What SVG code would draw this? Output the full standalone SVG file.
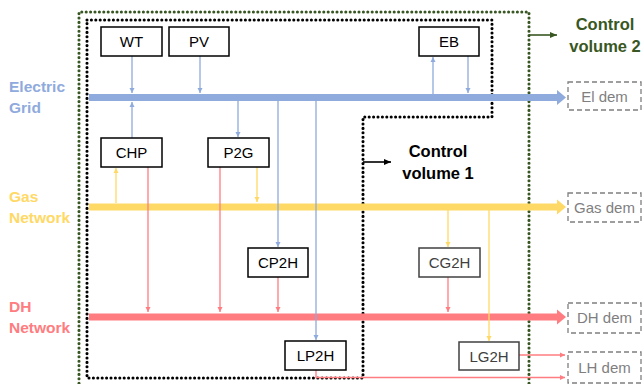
<svg xmlns="http://www.w3.org/2000/svg" width="643" height="384" viewBox="0 0 643 384">
<style>
.box{fill:#fff;stroke:#000;stroke-width:1.5}
.box2{fill:#fff;stroke:#404040;stroke-width:1.5}
.dem{fill:#fff;stroke:#7f7f7f;stroke-width:1.3;stroke-dasharray:5 3}
.t{font-family:"Liberation Sans",Arial,sans-serif;font-size:15px;text-anchor:middle;fill:#000}
.t2{fill:#404040}
.td{font-family:"Liberation Sans",Arial,sans-serif;font-size:15px;text-anchor:middle;fill:#7f7f7f}
.lab{font-family:"Liberation Sans",Arial,sans-serif;font-size:15.5px;font-weight:bold}
.cv{font-family:"Liberation Sans",Arial,sans-serif;font-size:16.5px;font-weight:bold;text-anchor:middle}
.b{stroke:#8faadc;stroke-width:1.3;fill:none}
.y{stroke:#ffd966;stroke-width:1.3;fill:none}
.r{stroke:#ff7c80;stroke-width:1.3;fill:none}
.dots{fill:none;stroke-width:3.1;stroke-linecap:round;stroke-dasharray:0 4.4}
</style>
<defs>
<marker id="ab" markerUnits="userSpaceOnUse" markerWidth="6" markerHeight="6" refX="5" refY="3" orient="auto"><path d="M0,0.5 L5,3 L0,5.5 z" fill="#8faadc"/></marker>
<marker id="ay" markerUnits="userSpaceOnUse" markerWidth="6" markerHeight="6" refX="5" refY="3" orient="auto"><path d="M0,0.5 L5,3 L0,5.5 z" fill="#ffd966"/></marker>
<marker id="ar" markerUnits="userSpaceOnUse" markerWidth="6" markerHeight="6" refX="5" refY="3" orient="auto"><path d="M0,0.5 L5,3 L0,5.5 z" fill="#ff7c80"/></marker>
<marker id="ak" markerUnits="userSpaceOnUse" markerWidth="8" markerHeight="8" refX="7" refY="4" orient="auto"><path d="M0,1 L7,4 L0,7 z" fill="#000"/></marker>
<marker id="ag" markerUnits="userSpaceOnUse" markerWidth="8" markerHeight="8" refX="7" refY="4" orient="auto"><path d="M0,1 L7,4 L0,7 z" fill="#385723"/></marker>
</defs>
<rect width="643" height="384" fill="#fff"/>

<g id="control-volumes">
<path class="dots" stroke="#385723" d="M79,392 V12 H529 V392"/>
<path class="dots" stroke="#000" d="M87,20 H492 V117 H363 V378 H87 Z"/>
<line x1="529" y1="35" x2="557" y2="35" stroke="#385723" stroke-width="1.6" marker-end="url(#ag)"/>
<line x1="363" y1="162" x2="391" y2="162" stroke="#000" stroke-width="1.6" marker-end="url(#ak)"/>
<text class="cv" fill="#385723" x="605" y="30">Control</text>
<text class="cv" fill="#385723" x="605" y="52">volume 2</text>
<text class="cv" fill="#000" x="438" y="157">Control</text>
<text class="cv" fill="#000" x="438" y="179">volume 1</text>
</g>

<g id="labels">
<text class="lab" fill="#8faadc" x="9" y="92">Electric</text>
<text class="lab" fill="#8faadc" x="9" y="113">Grid</text>
<text class="lab" fill="#ffd966" x="9" y="202">Gas</text>
<text class="lab" fill="#ffd966" x="9" y="223">Network</text>
<text class="lab" fill="#ff7c80" x="9" y="312">DH</text>
<text class="lab" fill="#ff7c80" x="9" y="333">Network</text>
</g>

<g id="connectors">
<rect x="89" y="94" width="469" height="7" fill="#8faadc"/>
<polygon points="557,90 566,97.5 557,105" fill="#8faadc"/>
<rect x="89" y="203.5" width="469" height="7" fill="#ffd966"/>
<polygon points="557,199.5 566,207 557,214.5" fill="#ffd966"/>
<rect x="89" y="313.5" width="469" height="7" fill="#ff7c80"/>
<polygon points="557,309.5 566,317 557,324.5" fill="#ff7c80"/>
<line class="b" x1="132" y1="56" x2="132" y2="93" marker-end="url(#ab)"/>
<line class="b" x1="200" y1="56" x2="200" y2="93" marker-end="url(#ab)"/>
<line class="b" x1="132" y1="138" x2="132" y2="102" marker-end="url(#ab)"/>
<line class="b" x1="238" y1="101" x2="238" y2="137" marker-end="url(#ab)"/>
<line class="b" x1="278" y1="101" x2="278" y2="247" marker-end="url(#ab)"/>
<line class="b" x1="316" y1="101" x2="316" y2="340" marker-end="url(#ab)"/>
<line class="b" x1="433" y1="94" x2="433" y2="57" marker-end="url(#ab)"/>
<line class="b" x1="468" y1="56" x2="468" y2="93" marker-end="url(#ab)"/>
<line class="y" x1="116" y1="203" x2="116" y2="168" marker-end="url(#ay)"/>
<line class="y" x1="257" y1="167" x2="257" y2="202" marker-end="url(#ay)"/>
<line class="y" x1="448" y1="210" x2="448" y2="247" marker-end="url(#ay)"/>
<line class="y" x1="489" y1="210" x2="489" y2="341" marker-end="url(#ay)"/>
<line class="r" x1="148" y1="167" x2="148" y2="312" marker-end="url(#ar)"/>
<line class="r" x1="220" y1="167" x2="220" y2="312" marker-end="url(#ar)"/>
<line class="r" x1="278" y1="277" x2="278" y2="312" marker-end="url(#ar)"/>
<line class="r" x1="448" y1="277" x2="448" y2="312" marker-end="url(#ar)"/>
<line class="r" x1="519" y1="355" x2="565" y2="355" marker-end="url(#ar)"/>
<path class="r" d="M316,370 V377.5 H565" marker-end="url(#ar)"/>
</g>

<g id="WT"><rect class="box" x="101" y="27" width="61" height="29"/><text class="t" x="131.5" y="47">WT</text></g>
<g id="PV"><rect class="box" x="169" y="27" width="60" height="29"/><text class="t" x="199" y="47">PV</text></g>
<g id="EB"><rect class="box" x="419" y="27" width="60" height="29"/><text class="t" x="449" y="47">EB</text></g>
<g id="CHP"><rect class="box" x="101" y="138" width="61" height="29"/><text class="t" x="131.5" y="158">CHP</text></g>
<g id="P2G"><rect class="box" x="208" y="138" width="61" height="29"/><text class="t" x="238.5" y="158">P2G</text></g>
<g id="CP2H"><rect class="box" x="248" y="248" width="60" height="29"/><text class="t" x="278" y="268">CP2H</text></g>
<g id="CG2H"><rect class="box2" x="419" y="248" width="61" height="29"/><text class="t t2" x="449.5" y="268">CG2H</text></g>
<g id="LP2H"><rect class="box" x="285" y="341" width="61" height="29"/><text class="t" x="315.5" y="361">LP2H</text></g>
<g id="LG2H"><rect class="box2" x="459" y="342" width="60" height="28"/><text class="t t2" x="489" y="361.5">LG2H</text></g>

<g id="ElDem"><rect class="dem" x="568" y="82" width="73" height="28"/><text class="td" x="604.5" y="101.5">El dem</text></g>
<g id="GasDem"><rect class="dem" x="568" y="193" width="73" height="29"/><text class="td" x="604.5" y="213">Gas dem</text></g>
<g id="DHDem"><rect class="dem" x="568" y="303" width="73" height="30"/><text class="td" x="604.5" y="323">DH dem</text></g>
<g id="LHDem"><rect class="dem" x="568" y="352" width="73" height="31"/><text class="td" x="604.5" y="372.5">LH dem</text></g>
</svg>
